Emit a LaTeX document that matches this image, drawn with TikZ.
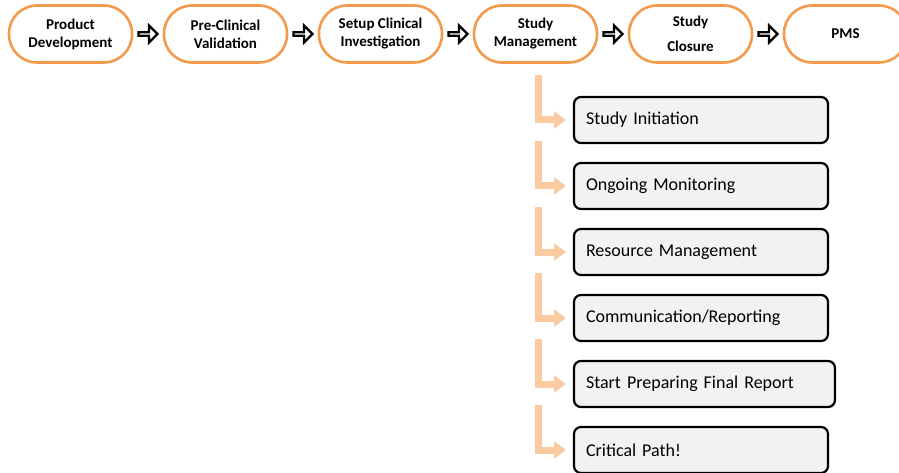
\documentclass[tikz,border=0pt]{standalone}
\usepackage{fontspec}
\setmainfont{Carlito}
\usetikzlibrary{positioning,arrows.meta,shapes.arrows,calc}
\definecolor{stageorange}{HTML}{F39A4C}
\definecolor{flowpeach}{HTML}{FACBA0}
\definecolor{taskgray}{HTML}{F2F2F2}

\begin{document}
\begin{tikzpicture}[x=1pt, y=-1pt,
      stage/.style={draw=stageorange, line width=2.6pt, fill=white, rounded corners=28pt,
                    align=center, minimum width=123pt, minimum height=57pt, outer sep=0pt,
                    font=\fontsize{15}{18}\selectfont\bfseries},
      go/.style={single arrow, draw=black, fill=white, line width=2.2pt, outer sep=0pt,
                 minimum height=19pt, minimum width=17pt, single arrow head extend=4.5pt, inner sep=0pt},
      task/.style={draw=black, line width=2.2pt, fill=taskgray, rounded corners=7pt,
                   minimum height=46pt, text width=230pt, inner xsep=12pt, outer sep=0pt,
                   align=left, font=\fontsize{18}{21}\selectfont},
      elbow/.style={draw=flowpeach, line width=7pt, -{Triangle[length=12pt,width=17pt]},
                    shorten >=8pt},
      node distance=6.5pt]
    \useasboundingbox (0,0) rectangle (899,473);
    % main phases
    \node[stage] (pd) at (70.5,34) {Product\\Development};
    \node[go, right=of pd] (a1) {};
    \node[stage, right=of a1] (pcv) {Pre-Clinical\\Validation};
    \node[go, right=of pcv] (a2) {};
    \node[stage, right=of a2] (sci) {Setup Clinical\\Investigation};
    \node[go, right=of sci] (a3) {};
    \node[stage, right=of a3] (sm) {Study\\Management};
    \node[go, right=of sm] (a4) {};
    \node[stage, right=of a4] (sc) {Study\\[7pt]Closure};
    \node[go, right=of sc] (a5) {};
    \node[stage, right=of a5] (pms) {PMS};
    % study management tasks
    \node[task, anchor=north west] (si) at (574,97) {Study Initiation};
    \node[task, below=20pt of si.south west, anchor=north west] (om) {Ongoing Monitoring};
    \node[task, below=20pt of om.south west, anchor=north west] (rm) {Resource Management};
    \node[task, below=20pt of rm.south west, anchor=north west] (cr) {Communication/Reporting};
    \node[task, below=20pt of cr.south west, anchor=north west, text width=237pt] (fr) {Start Preparing Final Report};
    \node[task, below=20pt of fr.south west, anchor=north west] (cp) {Critical Path!};
    \foreach \t in {si,om,rm,cr,fr,cp}
      \draw[elbow] ($(\t.west)+(-36,-45)$) |- (\t.west);
  \end{tikzpicture}
\end{document}
